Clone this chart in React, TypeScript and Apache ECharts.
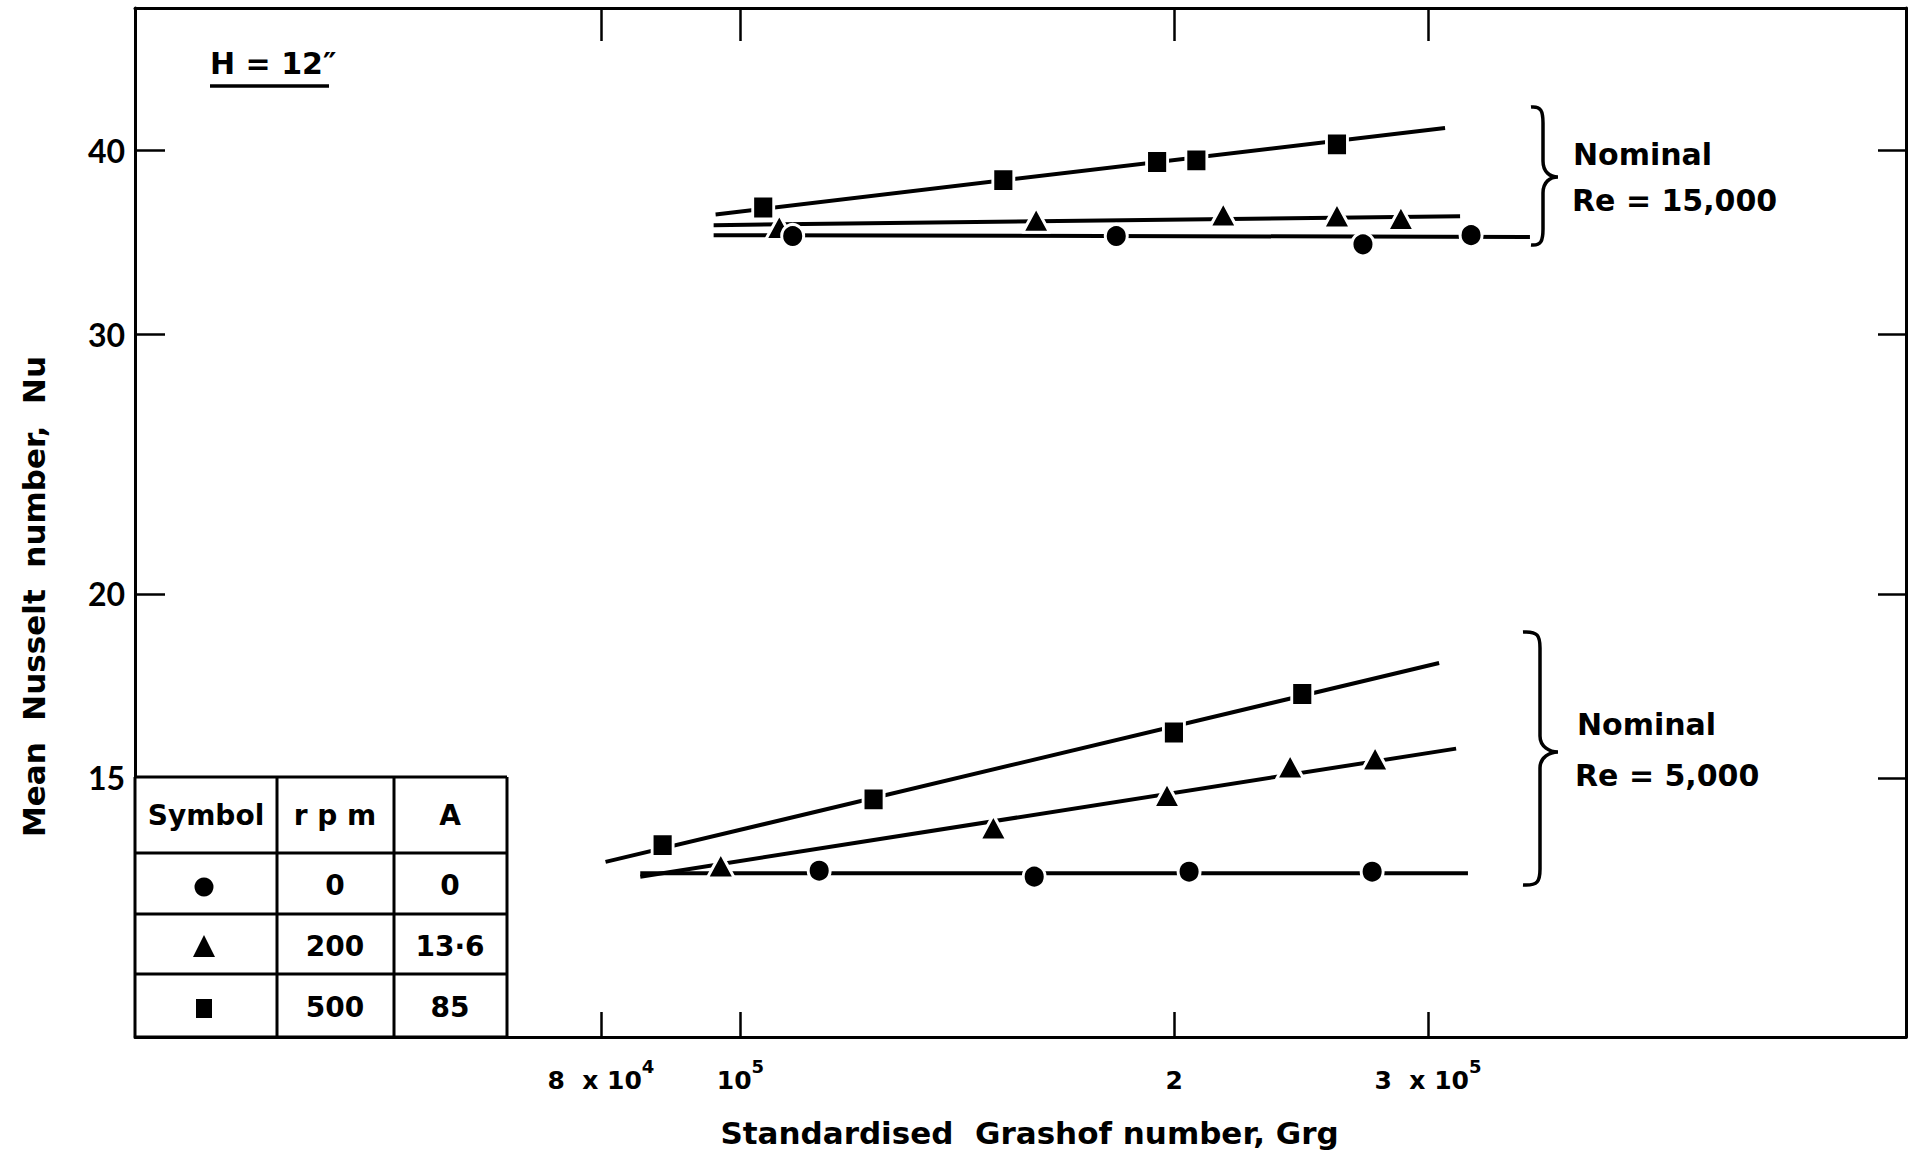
import React, { useEffect, useRef } from 'react';
import * as echarts from 'echarts';

// ---------- axes ----------
const X_MIN = 38000;
const X_MAX = 644000;
const Y_MIN = 10;
const Y_MAX = 50;
const X_TICKS = [80000, 100000, 200000, 300000];
const X_TICK_BASE = ['8  x 10', '10', '2', '3  x 10'];
const X_TICK_EXP = ['4', '5', '', '5'];
const Y_TICKS = [15, 20, 30, 40];

// ---------- Nominal Re = 15,000 ----------
const GR_15K_SQUARE = [103700, 152200, 194600, 207200, 259400];
const NU_15K_SQUARE = [36.6, 38.2, 39.3, 39.4, 40.4];
const GR_15K_SQUARE_FIT = [96100, 308300];
const NU_15K_SQUARE_FIT = [36.2, 41.45];

const GR_15K_TRIANGLE = [106400, 160400, 216300, 259400, 287300];
const NU_15K_TRIANGLE = [35.5, 35.9, 36.2, 36.15, 36.0];
const GR_15K_TRIANGLE_FIT = [95800, 315800];
const NU_15K_TRIANGLE_FIT = [35.6, 36.1];

const GR_15K_CIRCLE = [108700, 182300, 270400, 321400];
const NU_15K_CIRCLE = [35.0, 35.0, 34.55, 35.05];
const GR_15K_CIRCLE_FIT = [95800, 353100];
const NU_15K_CIRCLE_FIT = [35.05, 34.95];

// ---------- Nominal Re = 5,000 ----------
const GR_5K_SQUARE = [88300, 123700, 199900, 245400];
const NU_5K_SQUARE = [13.5, 14.5, 16.1, 17.1];
const GR_5K_SQUARE_FIT = [80600, 305400];
const NU_5K_SQUARE_FIT = [13.15, 17.95];

const GR_5K_TRIANGLE = [96900, 149800, 197700, 240700, 275700];
const NU_5K_TRIANGLE = [13.08, 13.88, 14.6, 15.27, 15.46];
const GR_5K_TRIANGLE_FIT = [85200, 313800];
const NU_5K_TRIANGLE_FIT = [12.85, 15.7];

const GR_5K_CIRCLE = [113400, 159900, 204800, 274400];
const NU_5K_CIRCLE = [12.97, 12.85, 12.95, 12.95];
const GR_5K_CIRCLE_FIT = [85200, 319800];
const NU_5K_CIRCLE_FIT = [12.92, 12.92];

// ---------- legend table ----------
const TABLE_HEADER = ['Symbol', 'r p m', 'A'];
const TABLE_RPM = ['0', '200', '500'];
const TABLE_A = ['0', '13·6', '85'];

const FONT = '"DejaVu Sans", sans-serif';
const NUM_FONT = 'Lato, sans-serif';

function bracePath(x0: number, yTop: number, yMid: number, yBot: number, w: number, xv: number) {
  const r = 16;
  const xt = x0 + w;
  return (
    `M${x0},${yTop} C${xv - 2},${yTop - 1} ${xv},${yTop + 4} ${xv},${yTop + r} ` +
    `L${xv},${yMid - r} C${xv},${yMid - 5} ${xt - 8},${yMid} ${xt},${yMid} ` +
    `C${xt - 8},${yMid} ${xv},${yMid + 5} ${xv},${yMid + r} ` +
    `L${xv},${yBot - r} C${xv},${yBot - 4} ${xv - 2},${yBot + 1} ${x0},${yBot}`
  );
}

echarts.graphic.registerShape('braceUpper', echarts.graphic.extendPath(bracePath(1531, 107, 177, 245, 27, 1543), {}));
echarts.graphic.registerShape('braceLower', echarts.graphic.extendPath(bracePath(1523, 632, 752, 885, 35, 1540), {}));

function pairs(gr: number[], nu: number[]) {
  return gr.map((g, i) => [g, nu[i]]);
}

function fitLine(name: string, gr: number[], nu: number[]) {
  return {
    type: 'line',
    name,
    data: pairs(gr, nu),
    symbol: 'none',
    showSymbol: false,
    lineStyle: { color: '#000', width: 4 },
    z: 2,
    silent: true,
  };
}

function markers(name: string, symbol: string, size: number[], gr: number[], nu: number[]) {
  return {
    type: 'scatter',
    name,
    data: pairs(gr, nu),
    symbol,
    symbolSize: size,
    itemStyle: { color: '#000', borderColor: '#fff', borderWidth: 3, borderJoin: 'round', opacity: 1 },
    z: 3,
  };
}

const CIRCLE_SIZE = [22, 23];
const SQUARE_SIZE = [21, 23];
const TRIANGLE_SIZE = [27, 25];

function xLabel(v: number) {
  const i = X_TICKS.findIndex((t) => Math.abs(t - v) / t < 1e-4);
  if (i < 0) return '';
  return `{b|${X_TICK_BASE[i]}}` + (X_TICK_EXP[i] ? `{s|${X_TICK_EXP[i]}}` : '');
}

function buildGraphics() {
  const g: any[] = [];
  const lineStyle = { stroke: '#000', lineWidth: 3 };
  const tl = 135, tr = 507, tt = 777, tb = 1037;
  const cols = [277, 394];
  const rows = [853, 914, 974];
  g.push({ type: 'rect', shape: { x: tl, y: tt, width: tr - tl, height: tb - tt }, style: { fill: '#fff', stroke: null }, z: 50 });
  g.push({ type: 'line', shape: { x1: tl, y1: tt, x2: tr, y2: tt }, style: lineStyle, z: 51 });
  g.push({ type: 'line', shape: { x1: tl, y1: tt, x2: tl, y2: tb }, style: lineStyle, z: 51 });
  g.push({ type: 'line', shape: { x1: tl, y1: tb, x2: tr, y2: tb }, style: lineStyle, z: 51 });
  g.push({ type: 'line', shape: { x1: tr, y1: tt, x2: tr, y2: tb }, style: lineStyle, z: 51 });
  cols.forEach((c) => g.push({ type: 'line', shape: { x1: c, y1: tt, x2: c, y2: tb }, style: lineStyle, z: 51 }));
  rows.forEach((r) => g.push({ type: 'line', shape: { x1: tl, y1: r, x2: tr, y2: r }, style: lineStyle, z: 51 }));

  const colC = [206, 335, 450];
  const rowC = [815, 885, 946, 1007];
  const txt = (text: string, x: number, y: number, size = 28) => ({
    type: 'text',
    x,
    y,
    z: 52,
    style: { text, fontFamily: FONT, fontWeight: 'bold', fontSize: size, fill: '#000', align: 'center', verticalAlign: 'middle' },
  });
  TABLE_HEADER.forEach((h, i) => g.push(txt(h, colC[i], rowC[0])));
  TABLE_RPM.forEach((t, i) => g.push(txt(t, colC[1], rowC[i + 1])));
  TABLE_A.forEach((t, i) => g.push(txt(t, colC[2], rowC[i + 1])));
  g.push({ type: 'circle', shape: { cx: colC[0] - 2, cy: rowC[1] + 2, r: 9.5 }, style: { fill: '#000' }, z: 52 });
  g.push({
    type: 'polygon',
    shape: { points: [[colC[0] - 2, rowC[2] - 11], [colC[0] + 9, rowC[2] + 11], [colC[0] - 13, rowC[2] + 11]] },
    style: { fill: '#000' },
    z: 52,
  });
  g.push({ type: 'rect', shape: { x: colC[0] - 10, y: rowC[3] - 8, width: 16, height: 19 }, style: { fill: '#000' }, z: 52 });

  // H = 12"
  g.push({
    type: 'text',
    x: 210,
    y: 63,
    style: { text: 'H = 12″', fontFamily: FONT, fontWeight: 'bold', fontSize: 30, fill: '#000', align: 'left', verticalAlign: 'middle' },
  });
  g.push({ type: 'line', shape: { x1: 210, y1: 86, x2: 329, y2: 86 }, style: { stroke: '#000', lineWidth: 3.5 } });

  // braces and group labels
  g.push({ type: 'braceUpper', style: { stroke: '#000', lineWidth: 3.5, fill: 'none' } });
  g.push({ type: 'braceLower', style: { stroke: '#000', lineWidth: 3.5, fill: 'none' } });
  const ann = (text: string, x: number, y: number) => ({
    type: 'text',
    x,
    y,
    style: { text, fontFamily: FONT, fontWeight: 'bold', fontSize: 30, fill: '#000', align: 'left', verticalAlign: 'middle' },
  });
  g.push(ann('Nominal', 1573, 154));
  g.push(ann('Re = 15,000', 1572, 200));
  g.push(ann('Nominal', 1577, 724));
  g.push(ann('Re = 5,000', 1575, 775));
  return g;
}

function buildOption() {
  const axisLine = { show: true, lineStyle: { color: '#000', width: 3 } };
  const tickStyle = { color: '#000', width: 2.5 };
  const xCommon = { type: 'log', min: X_MIN, max: X_MAX, splitLine: { show: false }, minorTick: { show: false }, axisLine };
  const yCommon = { type: 'log', min: Y_MIN, max: Y_MAX, splitLine: { show: false }, minorTick: { show: false }, axisLine };
  return {
    animation: false,
    backgroundColor: '#fff',
    grid: { left: 135, right: 5, top: 8, bottom: 122, outerBoundsMode: 'none', containLabel: false },
    xAxis: [
      {
        ...xCommon,
        position: 'bottom',
        name: 'Standardised  Grashof number, Grg',
        nameLocation: 'middle',
        nameGap: 80,
        nameTextStyle: { fontFamily: FONT, fontWeight: 'bold', fontSize: 31, color: '#000', padding: [0, 0, 0, 18] },
        axisTick: { show: true, inside: true, length: 25, customValues: X_TICKS, lineStyle: tickStyle },
        axisLabel: {
          show: true,
          customValues: X_TICKS,
          margin: 20,
          formatter: xLabel,
          color: '#000',
          rich: {
            b: { fontFamily: FONT, fontWeight: 'bold', fontSize: 25, lineHeight: 36, color: '#000', verticalAlign: 'bottom' },
            s: { fontFamily: FONT, fontWeight: 'bold', fontSize: 18, lineHeight: 17, color: '#000', verticalAlign: 'top' },
          },
        },
      },
      {
        ...xCommon,
        position: 'top',
        axisTick: { show: true, inside: true, length: 33, customValues: X_TICKS, lineStyle: tickStyle },
        axisLabel: { show: false },
      },
    ],
    yAxis: [
      {
        ...yCommon,
        position: 'left',
        name: 'Mean  Nusselt  number,  Nu',
        nameLocation: 'middle',
        nameRotate: 90,
        nameGap: 86,
        nameTextStyle: { fontFamily: FONT, fontWeight: 'bold', fontSize: 31, color: '#000', padding: [0, 148, 0, 0] },
        axisTick: { show: true, inside: true, length: 30, customValues: Y_TICKS, lineStyle: tickStyle },
        axisLabel: {
          show: true,
          customValues: Y_TICKS,
          margin: 10,
          formatter: (v: number) => String(Math.round(v)),
          fontFamily: NUM_FONT,
          fontWeight: 'bold',
          fontSize: 32,
          color: '#000',
        },
      },
      {
        ...yCommon,
        position: 'right',
        axisTick: { show: true, inside: true, length: 28, customValues: Y_TICKS, lineStyle: tickStyle },
        axisLabel: { show: false },
      },
    ],
    series: [
      fitLine('Re 15,000 · 500 rpm fit', GR_15K_SQUARE_FIT, NU_15K_SQUARE_FIT),
      fitLine('Re 15,000 · 200 rpm fit', GR_15K_TRIANGLE_FIT, NU_15K_TRIANGLE_FIT),
      fitLine('Re 15,000 · 0 rpm fit', GR_15K_CIRCLE_FIT, NU_15K_CIRCLE_FIT),
      fitLine('Re 5,000 · 500 rpm fit', GR_5K_SQUARE_FIT, NU_5K_SQUARE_FIT),
      fitLine('Re 5,000 · 200 rpm fit', GR_5K_TRIANGLE_FIT, NU_5K_TRIANGLE_FIT),
      fitLine('Re 5,000 · 0 rpm fit', GR_5K_CIRCLE_FIT, NU_5K_CIRCLE_FIT),
      markers('Re 15,000 · 500 rpm', 'rect', SQUARE_SIZE, GR_15K_SQUARE, NU_15K_SQUARE),
      markers('Re 15,000 · 200 rpm', 'triangle', TRIANGLE_SIZE, GR_15K_TRIANGLE, NU_15K_TRIANGLE),
      markers('Re 15,000 · 0 rpm', 'circle', CIRCLE_SIZE, GR_15K_CIRCLE, NU_15K_CIRCLE),
      markers('Re 5,000 · 500 rpm', 'rect', SQUARE_SIZE, GR_5K_SQUARE, NU_5K_SQUARE),
      markers('Re 5,000 · 200 rpm', 'triangle', TRIANGLE_SIZE, GR_5K_TRIANGLE, NU_5K_TRIANGLE),
      markers('Re 5,000 · 0 rpm', 'circle', CIRCLE_SIZE, GR_5K_CIRCLE, NU_5K_CIRCLE),
    ],
    graphic: buildGraphics(),
  };
}

export default function App() {
  const ref = useRef<HTMLDivElement>(null);
  useEffect(() => {
    if (!ref.current) return;
    const chart = echarts.init(ref.current, undefined, { renderer: 'svg' });
    chart.setOption(buildOption() as any);
    return () => chart.dispose();
  }, []);
  return <div ref={ref} style={{ position: 'absolute', left: 0, top: 0, width: 1911, height: 1159, background: '#fff' }} />;
}
